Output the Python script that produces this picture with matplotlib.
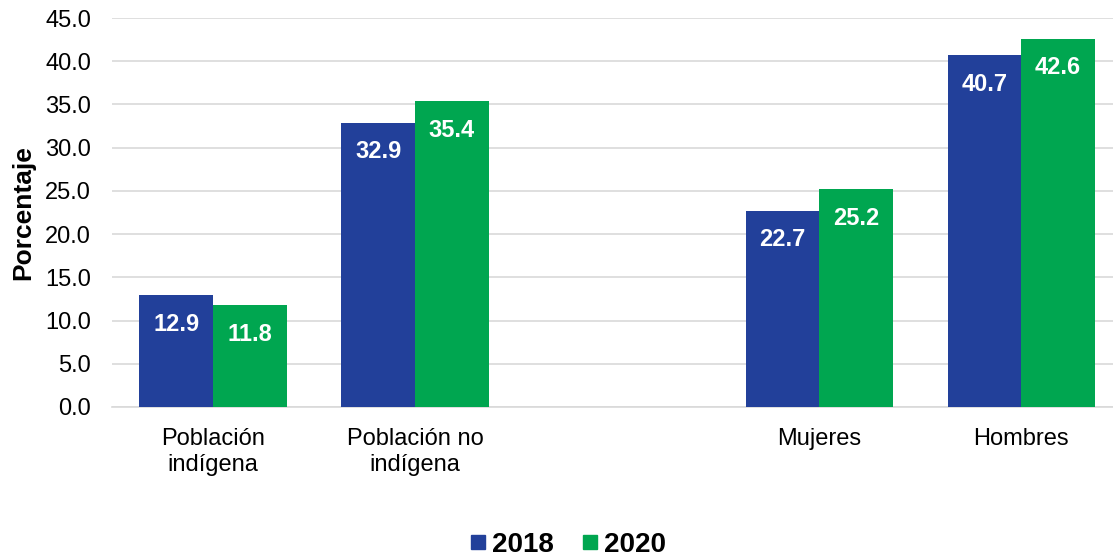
import numpy as np
import matplotlib.pyplot as plt
from matplotlib.lines import Line2D

plt.rcParams['font.family'] = ['Liberation Sans', 'DejaVu Sans']

categories = ["Población\nindígena", "Población no\nindígena", "", "Mujeres", "Hombres"]
series_names = ["2018", "2020"]
values_2018 = [12.9, 32.9, None, 22.7, 40.7]
values_2020 = [11.8, 35.4, None, 25.2, 42.6]
yticks = [0, 5, 10, 15, 20, 25, 30, 35, 40, 45]

colors = ["#22409A", "#00A650"]
bar_w = 0.364

fig = plt.figure(figsize=(11.13, 5.56), dpi=100)
ax = fig.add_axes([0.1006, 0.268, 0.8994, 0.6996])

x = np.arange(len(categories))
for i, (vals, color) in enumerate(zip([values_2018, values_2020], colors)):
    offset = (i - 0.5) * bar_w
    for xi, v in zip(x, vals):
        if v is None:
            continue
        ax.bar(xi + offset, v, width=bar_w, color=color, zorder=3)
        ax.annotate(f"{v:.1f}", (xi + offset, v), xytext=(0, -21),
                    textcoords="offset points", ha="center", va="center",
                    color="white", fontsize=17, fontweight="bold", zorder=4)

ax.set_xlim(-0.5, 4.455)
ax.set_ylim(0, 45)
ax.set_yticks(yticks)
ax.set_yticklabels([f"{t:.1f}" for t in yticks], fontsize=17)
ax.set_xticks(x)
ax.set_xticklabels(categories, fontsize=17, linespacing=1.22)
ax.tick_params(axis="both", length=0)
ax.tick_params(axis="x", pad=15)
ax.tick_params(axis="y", pad=15)
ax.set_ylabel("Porcentaje", fontsize=19, fontweight="bold", labelpad=7)

ax.grid(axis="y", color="#D9D9D9", linewidth=1.2, zorder=0)
for s in ["top", "right", "left"]:
    ax.spines[s].set_visible(False)
ax.spines["bottom"].set_color("#D9D9D9")
ax.spines["bottom"].set_linewidth(1.2)

handles = [Line2D([], [], marker="s", linestyle="", color=c, markersize=10.5)
           for c in colors]
fig.legend(handles, series_names, loc="center", bbox_to_anchor=(0.508, 0.02),
           ncol=2, frameon=False, prop={"size": 20, "weight": "bold"},
           handletextpad=0.0, columnspacing=0.8, handlelength=1.0)

fig.savefig("out.png", dpi=100)
